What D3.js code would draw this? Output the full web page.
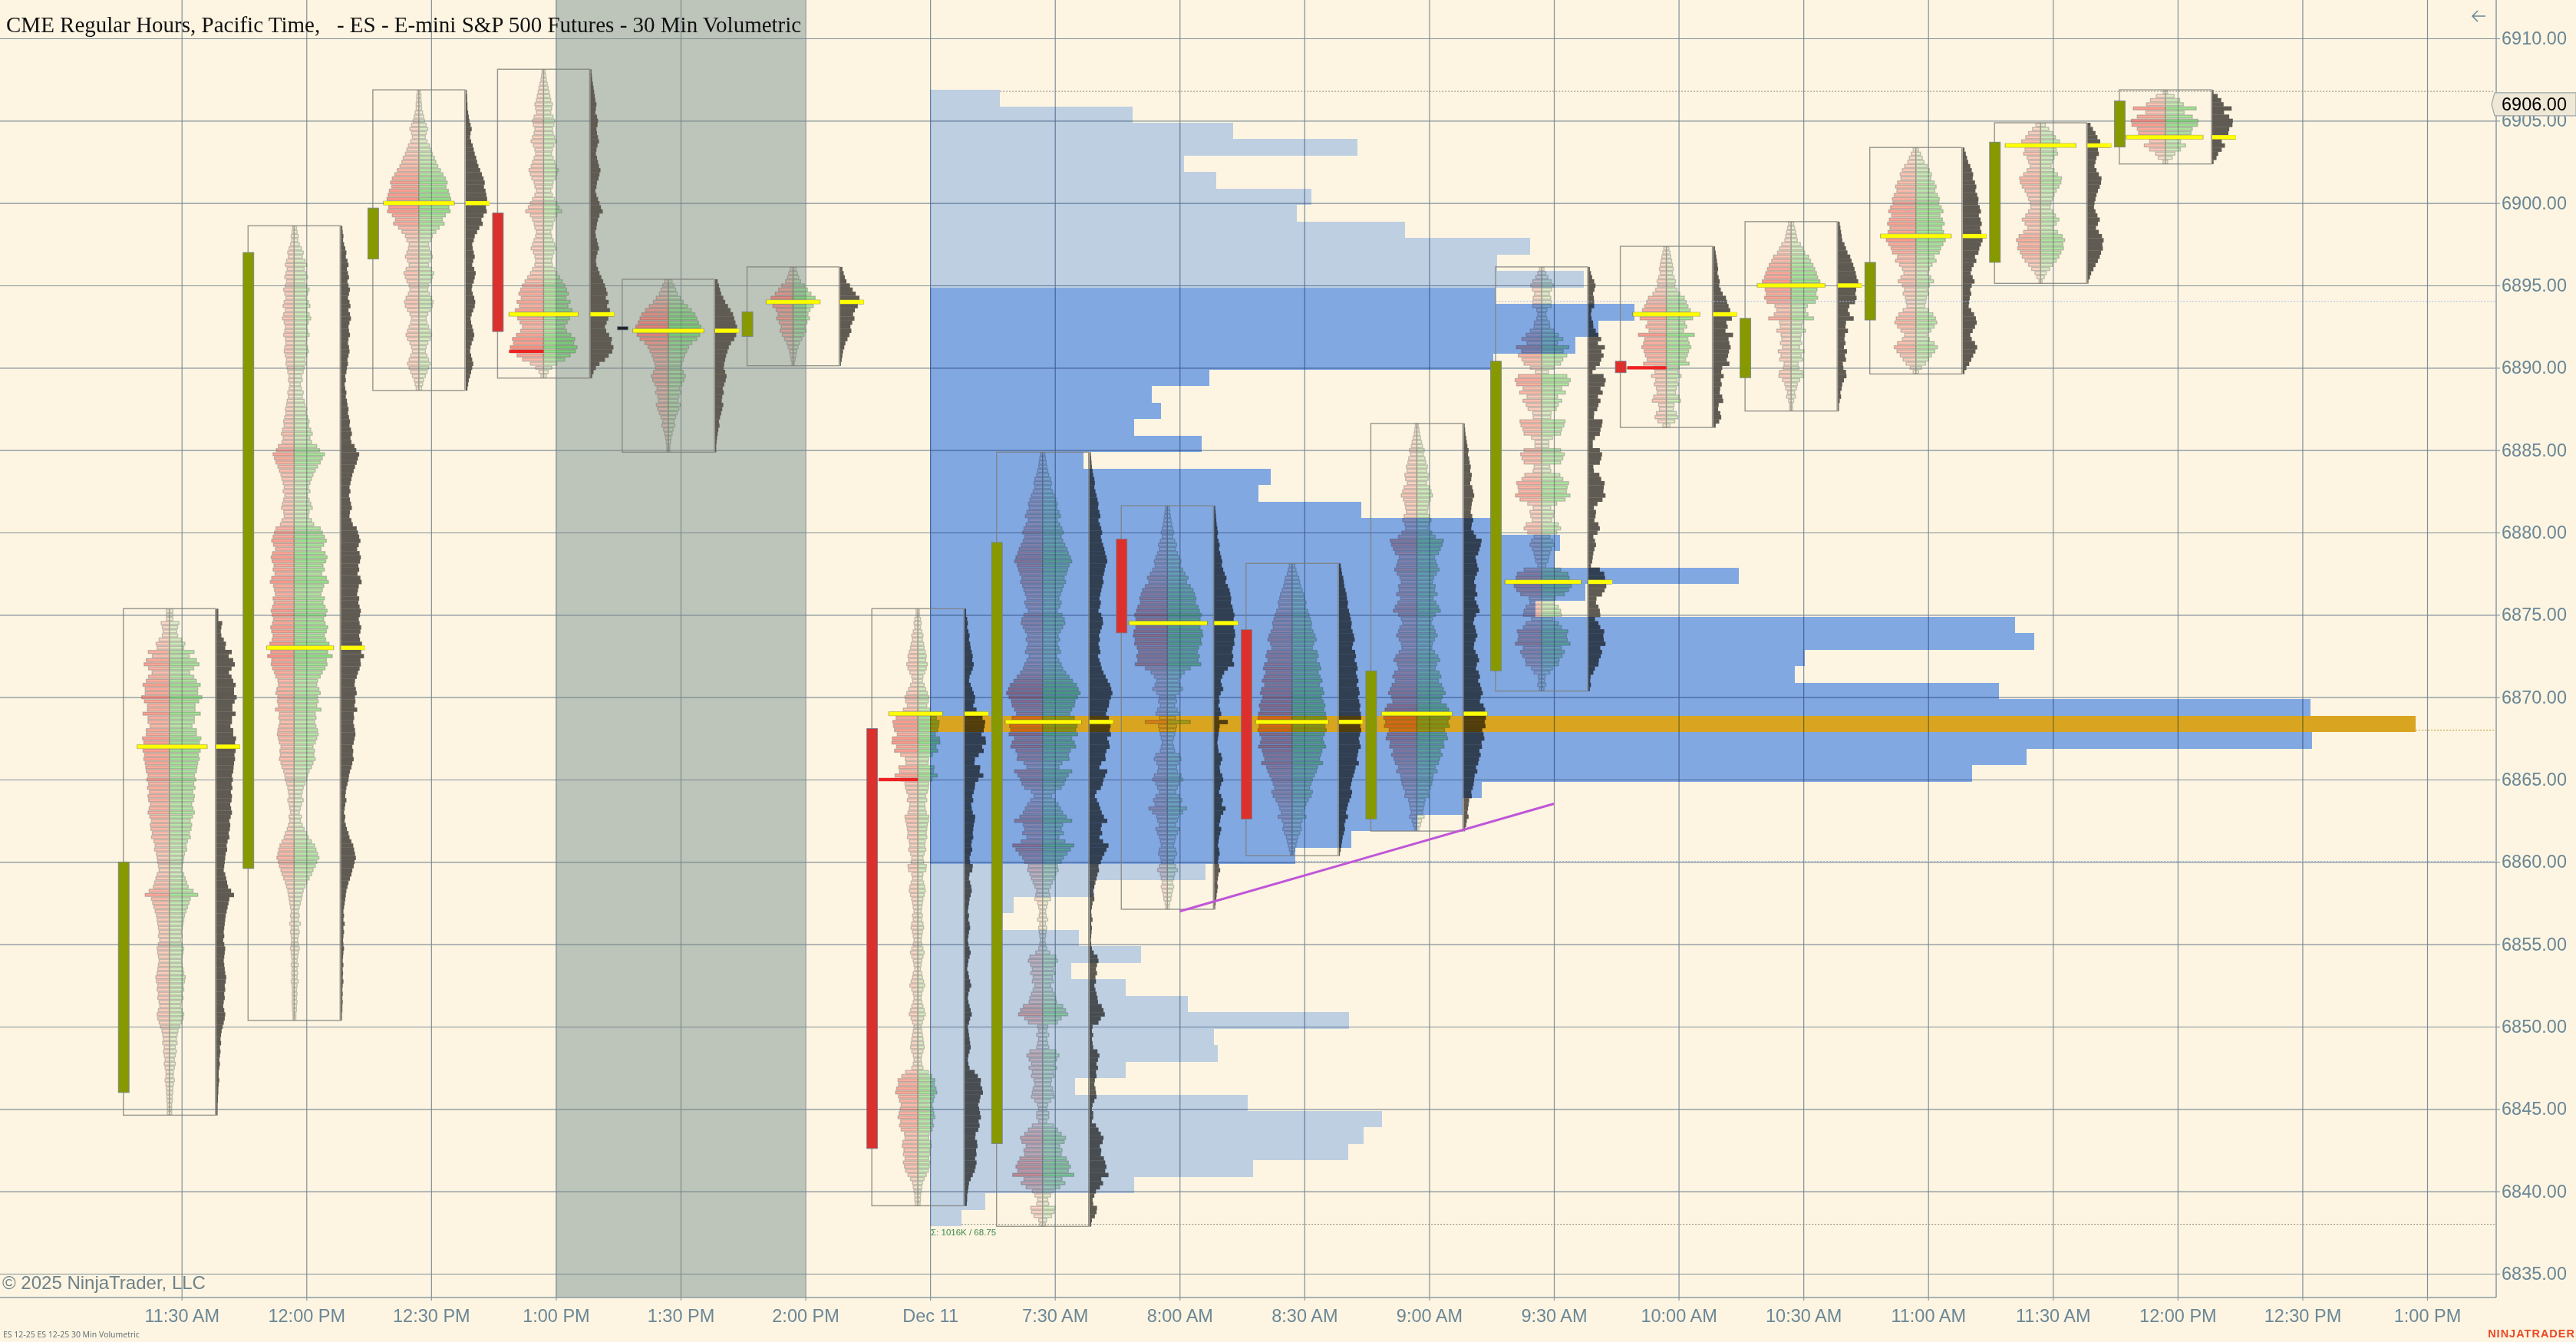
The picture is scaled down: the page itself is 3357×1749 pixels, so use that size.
<!DOCTYPE html>
<html>
<head>
<meta charset="utf-8">
<title>ES 30 Min Volumetric</title>
<script src="https://cdn.jsdelivr.net/npm/d3@7"></script>
<style>
  html, body { margin: 0; padding: 0; background: #fdf5e2; }
  text { font-family: "Liberation Sans", Arial, sans-serif; }
  svg { display: block; }
</style>
</head>
<body>
<div id="chart-area"></div>
<script>
/*
* ES 30 minute volumetric bars with a composite session profile
*/

// time axis slots
var timeLabels = ["11:30 AM", "12:00 PM", "12:30 PM", "1:00 PM", "1:30 PM", "2:00 PM", "Dec 11", "7:30 AM", "8:00 AM",
  "8:30 AM", "9:00 AM", "9:30 AM", "10:00 AM", "10:30 AM", "11:00 AM", "11:30 AM", "12:00 PM", "12:30 PM", "1:00 PM"];
var priceTicks = [6910, 6905, 6900, 6895, 6890, 6885, 6880, 6875, 6870, 6865, 6860, 6855, 6850, 6845, 6840, 6835];

// bar values, one entry per 30 min bar (slot = index)
var barOpen  = [6846, 6859.6, 6896.6, 6899.4, 6892.5, 6891.9, 6868.1, 6842.9, 6879.6, 6874.1, 6862.6, 6871.6, 6890.4, 6889.4, 6892.9, 6896.4, 6903.4];
var barClose = [6860, 6897, 6899.7, 6892.2, 6892.3, 6893.4, 6842.6, 6879.4, 6873.9, 6862.6, 6871.6, 6890.4, 6889.7, 6893, 6896.4, 6903.7, 6906.2];
var barHigh  = [6875.25, 6898.5, 6906.75, 6908, 6895.25, 6896, 6875.25, 6884.75, 6881.5, 6878, 6886.5, 6896, 6897.25, 6898.75, 6903.25, 6904.75, 6906.75];
var barLow   = [6844.75, 6850.5, 6888.75, 6889.5, 6885, 6890.25, 6839.25, 6838, 6857.25, 6860.5, 6862, 6870.5, 6886.5, 6887.5, 6889.75, 6895.25, 6902.5];
var barPoc   = [6867, 6873, 6900, 6893.25, 6892.25, 6894, 6869, 6868.5, 6874.5, 6868.5, 6869, 6877, 6893.25, 6895, 6898, 6903.5, 6904];
var barPocVol = [91, 87, 92, 90, 92, 70, 70, 99, 102, 95, 92, 99, 87, 88, 92, 92, 100];
var barSellShare = [0.46, 0.41, 0.5, 0.5, 0.5, 0.5, 0.54, 0.49, 0.49, 0.5, 0.5, 0.48, 0.5, 0.5, 0.5, 0.5, 0.51];

// row volume per tick, high to low, in percent of the bar's POC
var ladder0 = [5,5,5,18,15,13,15,24,33,30,59,45,66,74,58,46,58,66,78,70,70,83,73,62,62,78,60,60,53,66,66,80,75,100,
  78,72,75,70,68,66,60,64,58,62,55,60,58,52,56,60,54,48,52,50,45,48,40,36,38,32,30,28,26,24,30,34,38,42,56,70,48,44,40,36,32,30,28,26,24,26,22,26,30,28,26,24,26,28,30,34,32,28,30,26,28,24,22,26,30,28,24,20,16,14,12,14,10,12,10,8,10,8,6,6,8,6,5,5,4,4,3,3,3];
var ladder1 = [3,4,6,5,8,12,16,14,20,24,18,22,26,20,24,30,26,22,28,32,24,30,34,28,24,26,30,24,22,26,28,24,20,22,18,16,12,14,10,12,16,14,18,
  20,24,22,26,30,28,34,38,32,36,50,58,72,66,60,52,46,40,36,32,28,32,26,30,34,38,30,28,36,42,60,66,72,78,70,62,74,80,76,68,72,64,78,84,70,66,62,72,68,74,80,76,70,74,82,78,72,76,86,100,
  82,96,78,80,74,66,60,52,50,56,60,52,54,50,62,46,48,44,48,52,54,50,46,40,44,42,46,40,36,30,26,24,20,16,14,12,16,12,10,8,12,10,14,18,24,28,36,44,48,52,56,50,46,40,36,30,24,20,16,14,12,10,8,6,8,6,10,6,8,6,5,6,8,6,5,4,6,4,5,4,6,4,3,4,3,4,3,3,2,2];
var ladder2 = [2,3,3,4,4,6,8,10,14,18,14,12,16,22,26,30,36,40,46,54,62,70,76,72,80,84,88,100,82,86,70,60,66,50,40,30,26,20,22,26,30,24,20,28,34,30,26,20,18,22,28,32,30,24,18,14,16,20,24,28,24,18,14,12,16,20,24,20,16,12,8,6,4];
var ladder3 = [2,3,4,6,8,10,12,14,18,16,14,20,24,22,18,20,24,28,22,18,16,20,24,28,34,30,26,20,18,14,18,24,30,36,44,30,24,20,18,14,16,20,24,28,22,18,16,18,24,30,38,46,54,60,66,58,72,64,78,100,70,62,54,60,74,88,84,96,90,72,54,30,16,8,4];
var ladder4 = [6,10,14,18,26,34,46,58,70,76,82,90,100,86,76,60,50,44,38,34,30,28,34,40,36,30,24,28,22,20,26,22,18,14,10,12,8,6,4,3,2,2];
var ladder5 = [6,10,14,20,34,46,60,78,100,70,56,48,54,44,36,40,32,24,16,12,8,6,4,2];
var ladder6 = [3,3,6,8,6,10,14,12,16,18,22,26,24,30,26,20,14,12,18,24,30,36,34,28,42,100,70,83,80,76,65,85,87,68,76,52,35,33,59,56,74,50,
  36,34,30,24,28,20,22,26,36,34,30,28,26,28,22,20,24,18,14,16,26,24,14,12,16,20,22,18,14,12,10,8,12,10,14,16,12,10,8,10,14,18,14,10,8,6,10,12,16,20,14,10,8,10,14,18,22,16,12,8,10,12,14,16,18,14,10,8,10,14,34,48,62,60,68,72,60,56,50,54,58,62,52,56,50,38,36,44,46,40,42,36,42,38,34,26,18,12,10,8,6,6,5];
var ladder7 = [3,4,5,6,8,10,14,16,14,18,22,26,30,28,34,38,30,36,42,46,40,44,50,56,60,66,70,62,58,54,48,52,46,42,38,34,40,36,30,42,48,50,44,38,32,36,30,34,38,28,34,40,44,52,62,72,84,90,96,88,80,78,70,64,78,100,
  86,82,88,70,78,82,66,60,62,42,34,70,60,52,48,40,22,16,24,32,38,44,54,70,44,40,46,34,50,76,66,56,46,40,30,32,26,22,18,14,10,12,14,8,6,4,5,8,4,6,5,4,3,4,6,12,26,30,24,20,24,18,20,14,18,22,26,28,44,52,58,40,30,8,6,10,6,8,10,26,34,28,22,28,20,22,16,14,18,20,22,14,8,6,10,10,6,20,30,40,52,48,36,42,40,54,60,66,60,76,42,50,36,20,14,8,10,24,22,16,6,4];
var ladder8 = [2,3,4,5,6,8,10,8,12,16,14,18,22,26,24,30,36,44,40,50,58,62,66,64,72,76,82,78,100,78,84,86,80,82,74,70,76,72,80,50,34,26,20,24,30,20,14,16,12,18,22,14,50,16,14,12,10,8,10,12,22,26,20,16,18,26,30,22,18,14,22,28,24,40,30,20,18,14,22,18,14,12,10,14,16,12,10,14,18,12,10,8,10,8,6,5,3,2];
var ladder9 = [4,6,8,12,14,16,20,24,26,30,28,34,38,42,46,44,50,56,60,52,48,62,66,60,70,74,66,72,78,70,80,84,76,82,88,84,90,92,100,88,92,86,80,84,90,78,74,70,80,64,60,54,48,44,40,48,44,36,30,26,22,30,20,16,18,14,10,8,6,4,2];
var ladder10 = [2,3,4,6,8,10,14,12,16,18,22,20,26,24,20,28,32,36,30,26,24,22,28,32,26,24,34,44,70,66,60,54,42,46,50,56,48,40,36,44,42,50,38,46,54,60,44,36,32,40,44,50,42,36,34,42,52,58,48,44,56,62,54,64,70,76,66,62,80,88,100,92,86,90,74,80,84,70,72,60,66,58,54,44,50,38,36,34,30,24,26,16,14,12,10,14,8,6,3];
var ladder11 = [3,6,10,17,22,18,13,16,17,17,8,6,8,13,14,23,34,46,32,63,47,57,46,40,23,11,57,67,62,43,53,32,43,34,29,17,16,52,49,43,40,20,12,12,40,50,46,40,14,16,38,46,62,58,56,66,52,30,16,24,22,18,34,40,30,14,20,24,18,14,12,10,6,40,60,64,100,70,62,50,26,24,34,40,42,20,34,42,60,56,58,66,42,50,44,36,34,20,14,5,4,6,3];
var ladder12 = [4,6,8,10,12,14,12,16,20,18,24,32,46,52,58,66,100,74,48,54,44,80,58,62,68,60,56,50,62,30,26,36,24,28,22,20,30,34,16,14,22,26,18,6];
var ladder13 = [4,6,8,10,12,20,26,32,44,50,58,64,70,74,82,100,72,68,74,66,40,34,42,60,26,24,34,22,20,24,18,30,22,26,14,16,26,28,18,12,10,6,8,4,2,2];
var ladder14 = [4,8,12,16,24,30,36,34,44,50,46,54,60,58,66,72,62,70,76,68,74,100,80,72,64,60,44,50,38,30,26,34,42,30,24,28,22,20,18,28,40,48,52,44,34,24,30,44,54,46,36,28,20,10,4];
var ladder15 = [8,16,26,34,46,100,36,40,30,26,22,30,40,52,50,44,36,30,26,22,20,26,34,44,36,28,40,54,62,56,58,50,44,36,26,18,10,6,2];
var ladder16 = [3,16,30,40,78,42,66,84,82,66,62,100,32,46,32,18,12,3];
var ladders = [ladder0, ladder1, ladder2, ladder3, ladder4, ladder5, ladder6, ladder7, ladder8, ladder9, ladder10, ladder11, ladder12, ladder13, ladder14, ladder15, ladder16];

// big one sided sell rows
var spikeBar = [3, 6, 12];
var spikePrice = [6891, 6865, 6890];
var spikeVol = [45, 51, 51];

// composite profile, 1 point rows from the top, relative volume
var sessionTopRow = 6906.375;
var sessionVol = [91,264,395,557,331,373,497,478,619,782,739,852,
  737,918,871,841,734,364,289,301,266,354,200,444,428,562,734,821,814,1054,854,789,
  1414,1439,1140,1127,1393,1799,1936,1801,1429,1358,719,694,635,549,476,
  359,214,109,89,194,275,184,255,336,546,370,375,255,189,414,589,565,545,421,266,72,41];
var valueAreaHigh = 6894.875;
var valueAreaLow = 6859.875;
var sessionPocRow = 6868.375;

// dotted levels: price and the profile row they leave from
var levelPrice = [6906.78, 6894.03, 6868, 6860.04, 6838];
var levelRow = [0, 12, 38, 46, 68];
var levelColor = ["#8a8a80", "#a3bce8", "#c09020", "#a3bce8", "#8a8a80"];

// trend line
var trendSlot = [8, 11];
var trendPrice = [6857, 6863.53];

var lastPrice = 6906;

var width = 3357, height = 1749;
var axisX = 3253, axisY = 1691;

var x = d3.scaleLinear().domain([0, 18]).range([236.7, 3163]);
var y = d3.scaleLinear().domain([6910, 6835]).range([50, 1660]);
var rowH = y(6900) - y(6900.25);

var svg = d3.select("#chart-area")
  .append("svg")
    .attr("width", width)
    .attr("height", height);

svg.append("rect").attr("width", width).attr("height", height).attr("fill", "#fdf5e2");

// closed market band
svg.append("rect")
  .attr("x", x(3))
  .attr("y", 0)
  .attr("width", x(5) - x(3))
  .attr("height", axisY)
  .attr("fill", "#bdc4b9");

// axes with grid
var xAxis = d3.axisBottom(x)
  .tickValues(d3.range(timeLabels.length))
  .tickFormat(function(d) { return timeLabels[d]; })
  .tickSize(4)
  .tickPadding(11);
var yAxis = d3.axisRight(y)
  .tickValues(priceTicks)
  .tickFormat(d3.format(".2f"))
  .tickSize(5)
  .tickPadding(2);

var gridX = svg.append("g").attr("transform", "translate(0," + axisY + ")")
  .call(d3.axisBottom(x).tickValues(d3.range(timeLabels.length)).tickSize(-axisY).tickFormat(""));
var gridY = svg.append("g").attr("transform", "translate(" + axisX + ",0)")
  .call(d3.axisLeft(y).tickValues(priceTicks).tickSize(axisX).tickFormat(""));
[gridX, gridY].forEach(function(g) {
  g.select(".domain").remove();
  g.selectAll("line").attr("stroke", "#73858f").attr("stroke-width", 1.2).attr("stroke-opacity", 0.9);
});

// volumetric bars: ladder rows and side profile
var ladderWidth = d3.scalePow().exponent(0.8).domain([0, 100]).range([0, 1]);
var profileWidth = d3.scalePow().exponent(0.8).domain([0, 100]).range([0, 31]);
var shade = d3.scaleLinear().domain([0, 100]).range([0.08, 0.64]);

var barsG = svg.append("g");

ladders.forEach(function(ladder, b) {
  var center = x(b) - 16;
  var boxRight = x(b) + 44;
  var rows = ladder.map(function(v, i) { return { v: v, price: barHigh[b] - i * 0.25 }; });
  var g = barsG.append("g");

  g.selectAll("rect.profile")
    .data(rows)
    .enter()
    .append("rect")
      .attr("class", "profile")
      .attr("x", boxRight + 1)
      .attr("y", function(d) { return y(d.price) - rowH / 2; })
      .attr("width", function(d) { return profileWidth(d.v); })
      .attr("height", rowH + 0.3)
      .attr("fill", "#5f5b52");

  g.selectAll("rect.sell")
    .data(rows)
    .enter()
    .append("rect")
      .attr("class", "sell")
      .attr("x", function(d) { return center - Math.max(1.5, ladderWidth(d.v) * barPocVol[b] * barSellShare[b]); })
      .attr("y", function(d) { return y(d.price) - rowH / 2 + 0.7; })
      .attr("width", function(d) { return Math.max(1.5, ladderWidth(d.v) * barPocVol[b] * barSellShare[b]); })
      .attr("height", rowH - 1.4)
      .attr("fill", "#ff5248")
      .attr("fill-opacity", function(d) { return shade(d.v); })
      .attr("stroke", "#5a5a5a")
      .attr("stroke-opacity", 0.34)
      .attr("stroke-width", 1.4);

  g.selectAll("rect.buy")
    .data(rows)
    .enter()
    .append("rect")
      .attr("class", "buy")
      .attr("x", center)
      .attr("y", function(d) { return y(d.price) - rowH / 2 + 0.7; })
      .attr("width", function(d) { return Math.max(1.5, ladderWidth(d.v) * barPocVol[b] * (1 - barSellShare[b])); })
      .attr("height", rowH - 1.4)
      .attr("fill", "#46cf46")
      .attr("fill-opacity", function(d) { return shade(d.v); })
      .attr("stroke", "#5a5a5a")
      .attr("stroke-opacity", 0.34)
      .attr("stroke-width", 1.4);
});

// composite session profile is multiplied over the bars
var sessionX = d3.scaleLinear().domain([0, d3.max(sessionVol)]).range([x(6), x(6) + 1936]);
var sessionG = svg.append("g").style("mix-blend-mode", "multiply");

sessionG.selectAll("rect")
  .data(sessionVol)
  .enter()
  .append("rect")
    .attr("x", x(6))
    .attr("y", function(d, i) { return Math.round(y(sessionTopRow - i + 0.5)); })
    .attr("width", function(d) { return sessionX(d) - x(6); })
    .attr("height", function(d, i) { return Math.round(y(sessionTopRow - i - 0.5)) - Math.round(y(sessionTopRow - i + 0.5)); })
    .attr("shape-rendering", "crispEdges")
    .attr("fill", function(d, i) {
      var p = sessionTopRow - i;
      if (p === sessionPocRow) return "#dbac25";
      return (p < valueAreaHigh && p > valueAreaLow) ? "#83afff" : "#c0d8ff";
    });

svg.append("g").selectAll("line")
  .data(levelPrice)
  .enter()
  .append("line")
    .attr("x1", function(d, i) { return sessionX(sessionVol[levelRow[i]]); })
    .attr("x2", axisX - 2)
    .attr("y1", function(d) { return y(d); })
    .attr("y2", function(d) { return y(d); })
    .attr("stroke", function(d, i) { return levelColor[i]; })
    .attr("stroke-width", 1)
    .attr("stroke-dasharray", "2,2");

// boxes, candles, POC lines on top
var idx = d3.range(ladders.length);

svg.append("g").selectAll("rect")
  .data(idx)
  .enter()
  .append("rect")
    .attr("x", function(b) { return x(b) - 76; })
    .attr("y", function(b) { return y(barHigh[b] + 0.125); })
    .attr("width", 120)
    .attr("height", function(b) { return y(barLow[b] - 0.125) - y(barHigh[b] + 0.125); })
    .attr("fill", "none")
    .attr("stroke", "#7d7d78")
    .attr("stroke-opacity", 0.8)
    .attr("stroke-width", 1.4);

svg.append("g").selectAll("rect")
  .data(idx)
  .enter()
  .append("rect")
    .attr("x", function(b) { return x(b) - 82.5; })
    .attr("y", function(b) { return y(Math.max(barOpen[b], barClose[b])); })
    .attr("width", 14)
    .attr("height", function(b) { return Math.max(4, Math.abs(y(barOpen[b]) - y(barClose[b]))); })
    .attr("fill", function(b) {
      if (Math.abs(barOpen[b] - barClose[b]) < 0.25) return "#222";
      return barClose[b] > barOpen[b] ? "#889900" : "#dc302c";
    })
    .attr("stroke", "#6f8293")
    .attr("stroke-width", 0.8);

svg.append("g").selectAll("rect")
  .data(spikeBar)
  .enter()
  .append("rect")
    .attr("x", function(b, i) { return x(b) - 16 - spikeVol[i]; })
    .attr("y", function(b, i) { return y(spikePrice[i]) - rowH / 2 + 0.5; })
    .attr("width", function(b, i) { return spikeVol[i]; })
    .attr("height", rowH - 1)
    .attr("fill", "#ee2222");

var pocG = svg.append("g");
pocG.selectAll("rect.ladderpoc")
  .data(idx)
  .enter()
  .append("rect")
    .attr("class", "ladderpoc")
    .attr("x", function(b) { return x(b) - 16 - barPocVol[b] * barSellShare[b]; })
    .attr("y", function(b) { return y(barPoc[b]) - rowH / 2; })
    .attr("width", function(b) { return barPocVol[b]; })
    .attr("height", rowH)
    .attr("fill", "#ffff00")
    .attr("stroke", "#5a5a5a")
    .attr("stroke-opacity", 0.25);
pocG.selectAll("rect.profilepoc")
  .data(idx)
  .enter()
  .append("rect")
    .attr("class", "profilepoc")
    .attr("x", function(b) { return x(b) + 45; })
    .attr("y", function(b) { return y(barPoc[b]) - rowH / 2; })
    .attr("width", profileWidth(100))
    .attr("height", rowH)
    .attr("fill", "#ffff00");

// trend line
svg.append("line")
  .attr("x1", x(trendSlot[0]))
  .attr("y1", y(trendPrice[0]))
  .attr("x2", x(trendSlot[1]))
  .attr("y2", y(trendPrice[1]))
  .attr("stroke", "#c055d8")
  .attr("stroke-width", 3);

// axes on top
var xG = svg.append("g").attr("transform", "translate(0," + axisY + ")").call(xAxis);
var yG = svg.append("g").attr("transform", "translate(" + axisX + ",0)").call(yAxis);
[xG, yG].forEach(function(g) {
  g.selectAll("text").attr("fill", "#6b8796").style("font-size", "23.5px").style("font-family", "'Liberation Sans', Arial, sans-serif");
  g.selectAll("line").attr("stroke", "#8a9aa3").attr("stroke-width", 1.2);
});
xG.select(".domain").attr("stroke", "#8a9aa3").attr("stroke-width", 1.5).attr("d", "M0,0H" + axisX);
yG.select(".domain").attr("stroke", "#8a9aa3").attr("stroke-width", 1.5).attr("d", "M0,0V" + axisY);

// last price flag
var flagY = y(lastPrice);
svg.append("polygon")
  .attr("points", [[3247, flagY], [3251, flagY - 15], [3357, flagY - 15], [3357, flagY + 15], [3251, flagY + 15]].join(" "))
  .attr("fill", "#efe8d6")
  .attr("stroke", "#9aa5a8")
  .attr("stroke-width", 1.2);
svg.append("text")
  .attr("x", 3260)
  .attr("y", flagY + 8.5)
  .attr("fill", "#000")
  .style("font-size", "23.5px")
  .text(d3.format(".2f")(lastPrice));

// labels
svg.append("text")
  .attr("x", 8)
  .attr("y", 42)
  .attr("fill", "#111")
  .style("font-family", "'Liberation Serif', 'Times New Roman', serif")
  .style("font-size", "29px")
  .style("white-space", "pre")
  .text("CME Regular Hours, Pacific Time,   - ES - E-mini S&P 500 Futures - 30 Min Volumetric");

svg.append("text")
  .attr("x", 3)
  .attr("y", 1680)
  .attr("fill", "#6f8288")
  .style("font-size", "24px")
  .text("\u00a9 2025 NinjaTrader, LLC");

svg.append("text")
  .attr("x", 4)
  .attr("y", 1743)
  .attr("fill", "#5c6a70")
  .style("font-family", "'Open Sans', sans-serif")
  .style("font-size", "10.5px")
  .text("ES 12-25 ES 12-25 30 Min Volumetric");

svg.append("text")
  .attr("x", 1213)
  .attr("y", 1610)
  .attr("fill", "#3f8a4a")
  .style("font-size", "11.5px")
  .text("\u03a3: 1016K / 68.75");

svg.append("text")
  .attr("x", 3356)
  .attr("y", 1743)
  .attr("text-anchor", "end")
  .attr("fill", "#ea4a25")
  .style("font-size", "14.5px")
  .style("font-weight", "bold")
  .style("letter-spacing", "1px")
  .text("NINJATRADER");

// back arrow
svg.append("path")
  .attr("d", "M3239,21H3222M3229,14L3222,21L3229,28")
  .attr("fill", "none")
  .attr("stroke", "#6b8796")
  .attr("stroke-width", 1.6);
</script>
</body>
</html>
